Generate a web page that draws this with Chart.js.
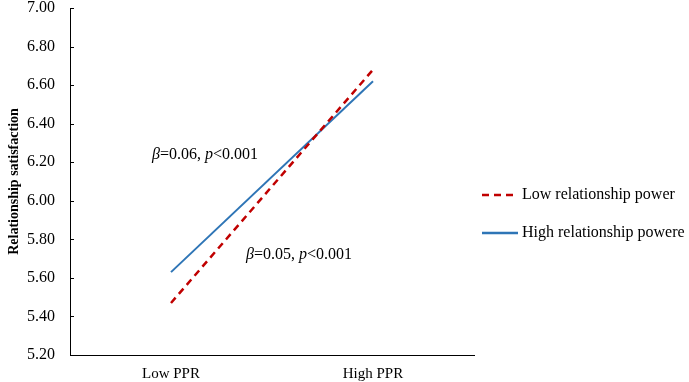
<!DOCTYPE html>
<html>
<head>
<meta charset="utf-8">
<script src="https://cdn.jsdelivr.net/npm/chart.js@4"></script>
<style>
  html, body { margin: 0; padding: 0; background: #fff; }
  #wrap { width: 689px; height: 382px; position: relative; }
</style>
</head>
<body>
<div id="wrap"><canvas id="myChart"></canvas></div>
<script>
const categories = ["Low PPR", "High PPR"];
const lowPower = [5.47, 6.68];
const highPower = [5.63, 6.62];
const seriesNames = ["Low relationship power", "High relationship powere"];
const yTicks = [5.2, 5.4, 5.6, 5.8, 6.0, 6.2, 6.4, 6.6, 6.8, 7.0];

const serif = "'Liberation Serif', 'Times New Roman', serif";
const red = "#C00000";
const blue = "#2E75B6";

// draws small inward ticks, the two beta labels and the legend
const extras = {
  id: "extras",
  afterDraw(chart) {
    const ctx = chart.ctx;
    const y = chart.scales.y;
    const area = chart.chartArea;
    ctx.save();

    // inward tick marks on the y axis
    ctx.strokeStyle = "#000";
    ctx.lineWidth = 1;
    yTicks.forEach((v) => {
      const py = Math.round(y.getPixelForValue(v)) + 0.5;
      ctx.beginPath();
      ctx.moveTo(area.left, py);
      ctx.lineTo(area.left + 4, py);
      ctx.stroke();
    });

    // beta labels, mixed italic / normal
    function richText(parts, x, yy) {
      ctx.textBaseline = "middle";
      ctx.textAlign = "left";
      ctx.fillStyle = "#000";
      parts.forEach(([txt, italic]) => {
        ctx.font = (italic ? "italic " : "") + "16px " + serif;
        ctx.fillText(txt, x, yy);
        x += ctx.measureText(txt).width;
      });
    }
    richText([["β", true], ["=0.06, ", false], ["p", true], ["<0.001", false]], 152, 155);
    richText([["β", true], ["=0.05, ", false], ["p", true], ["<0.001", false]], 246, 255);

    // legend
    const items = [
      { label: seriesNames[0], color: red, dash: [7, 5], y: 195 },
      { label: seriesNames[1], color: blue, dash: [], y: 233 },
    ];
    items.forEach((it) => {
      ctx.strokeStyle = it.color;
      ctx.lineWidth = 2.5;
      ctx.setLineDash(it.dash);
      ctx.beginPath();
      ctx.moveTo(482, it.y);
      ctx.lineTo(518, it.y);
      ctx.stroke();
      ctx.setLineDash([]);
      ctx.font = "16px " + serif;
      ctx.fillStyle = "#000";
      ctx.textBaseline = "middle";
      ctx.fillText(it.label, 522, it.y);
    });

    ctx.restore();
  },
};

const ctx = document.getElementById("myChart").getContext("2d");
const myChart = new Chart(ctx, {
  type: "line",
  data: {
    labels: categories,
    datasets: [
      {
        label: seriesNames[0],
        data: lowPower,
        borderColor: red,
        borderWidth: 2.5,
        borderDash: [7, 5],
        pointRadius: 0,
        fill: false,
      },
      {
        label: seriesNames[1],
        data: highPower,
        borderColor: blue,
        borderWidth: 2,
        pointRadius: 0,
        fill: false,
      },
    ],
  },
  options: {
    responsive: true,
    maintainAspectRatio: false,
    animation: false,
    plugins: {
      legend: { display: false },
      tooltip: { enabled: false },
    },
    layout: {
      padding: { top: 8, right: 215, bottom: 0, left: 0 },
    },
    scales: {
      x: {
        offset: true,
        grid: { display: false, drawTicks: false },
        border: { color: "#000", width: 1 },
        ticks: {
          color: "#000",
          padding: 10,
          font: { family: serif, size: 15 },
        },
        afterFit(s) {
          s.height = 27;
          s.paddingLeft = 0;
          s.paddingRight = 0;
        },
      },
      y: {
        min: 5.2,
        max: 7.0,
        afterBuildTicks(s) {
          s.ticks = yTicks.map((v) => ({ value: v }));
        },
        grid: { display: false, drawTicks: false },
        border: { color: "#000", width: 1 },
        ticks: {
          color: "#000",
          padding: 15,
          font: { family: serif, size: 16 },
          callback: (v) => Number(v).toFixed(2),
        },
        title: {
          display: true,
          text: "Relationship satisfaction",
          color: "#000",
          font: { family: serif, size: 14, weight: "bold" },
          padding: { top: 6, bottom: 0 },
        },
        afterFit(s) {
          s.width = 70;
          s.paddingTop = 0;
          s.paddingBottom = 0;
        },
      },
    },
  },
  plugins: [extras],
});
</script>
</body>
</html>
